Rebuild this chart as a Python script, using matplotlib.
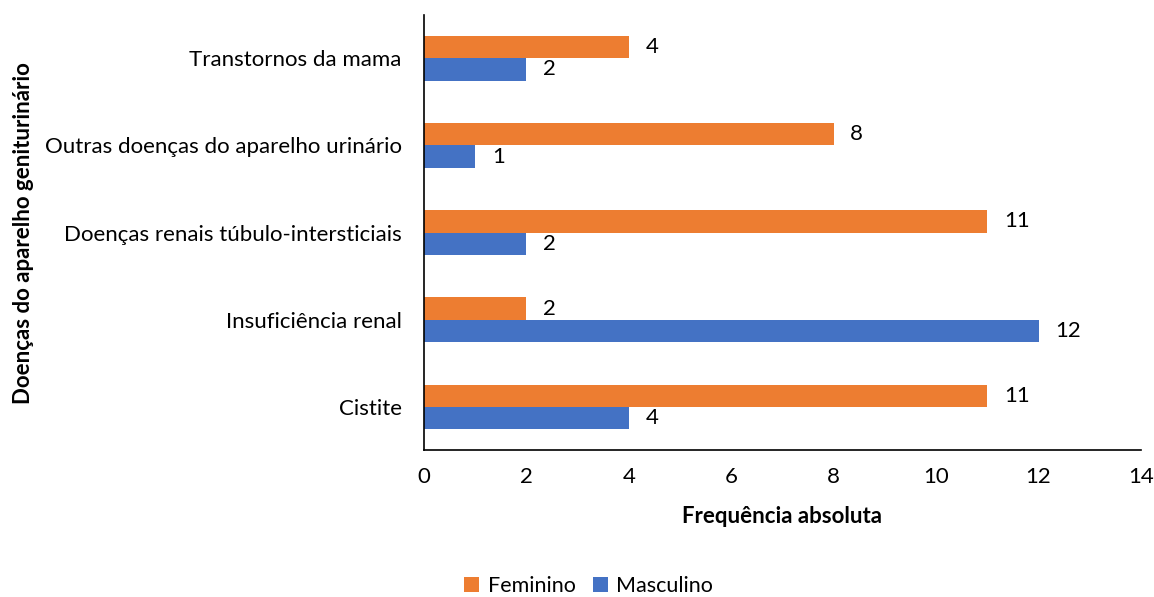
import matplotlib.pyplot as plt
import numpy as np

categorias = ['Cistite', 'Insuficiência renal', 'Doenças renais túbulo-intersticiais',
              'Outras doenças do aparelho urinário', 'Transtornos da mama']
feminino = [11, 2, 11, 8, 4]
masculino = [4, 12, 2, 1, 2]

plt.rcParams['font.family'] = ['Lato', 'DejaVu Sans']

fig = plt.figure(figsize=(11.54, 5.97), dpi=100)
ax = fig.add_axes([0.3674, 0.2462, 0.6213, 0.7287])

y = np.arange(len(categorias))
h = 0.253
b1 = ax.barh(y + h / 2, feminino, height=h, color='#ED7D31', label='Feminino')
b2 = ax.barh(y - h / 2, masculino, height=h, color='#4472C4', label='Masculino')

for bars in (b1, b2):
    for bar in bars:
        w = bar.get_width()
        ax.annotate(str(int(w)), (w, bar.get_y() + bar.get_height() / 2),
                    xytext=(12, 0), textcoords='offset points',
                    va='center', ha='left', fontsize=16)

ax.set_xlim(0, 14)
ax.set_ylim(-0.5, len(categorias) - 0.5)
ax.set_xticks(range(0, 15, 2))
ax.set_yticks(y)
ax.set_yticklabels(categorias)
ax.tick_params(axis='both', length=0, labelsize=16)
ax.tick_params(axis='x', pad=12)
ax.tick_params(axis='y', pad=16)
for s in ('top', 'right'):
    ax.spines[s].set_visible(False)
for s in ('left', 'bottom'):
    ax.spines[s].set_linewidth(1.2)

ax.set_xlabel('Frequência absoluta', fontsize=16, fontweight='bold', labelpad=14)
fig.text(0.02, 0.61, 'Doenças do aparelho geniturinário', rotation=90,
         fontsize=16, fontweight='bold', ha='center', va='center')

fig.legend(handles=[b1, b2], loc='center', bbox_to_anchor=(0.51, 0.018),
           ncol=2, frameon=False, fontsize=15.5, handlelength=0.7, handleheight=0.7,
           columnspacing=0.8, handletextpad=0.4)

fig.savefig('out.png', dpi=100)
